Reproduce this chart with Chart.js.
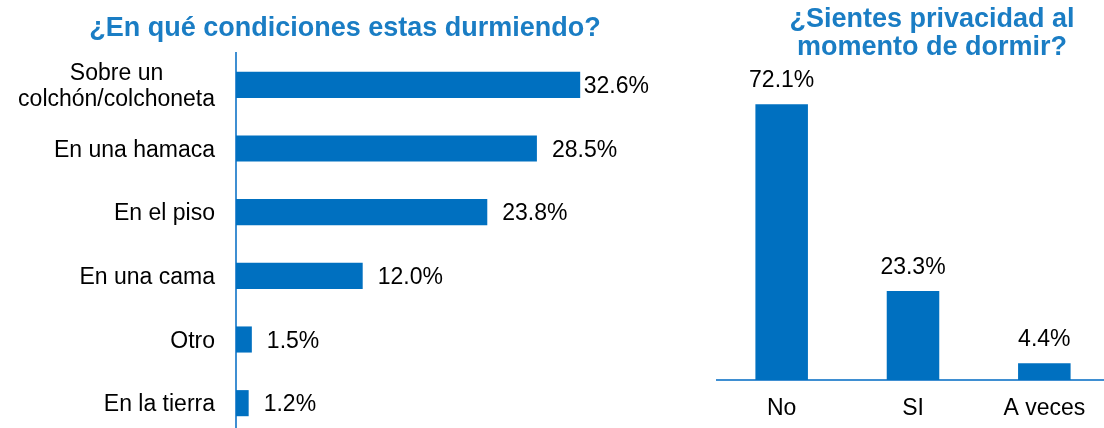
<!DOCTYPE html>
<html>
<head>
<meta charset="utf-8">
<script src="https://cdn.jsdelivr.net/npm/chart.js@4.4.1/dist/chart.umd.min.js"></script>
<style>
  html, body { margin: 0; padding: 0; background: #fff; overflow: hidden; }
  body { width: 1104px; height: 428px; position: relative; }
  #sleepChart { position: absolute; left: 0; top: 0; }
  #privacyChart { position: absolute; left: 716px; top: 0; }
</style>
</head>
<body>
<canvas id="sleepChart" width="690" height="435"></canvas>
<canvas id="privacyChart" width="432" height="428"></canvas>
<script>
var sleepTitle = '¿En qué condiciones estas durmiendo?';
var sleepCategories = [['Sobre un', 'colchón/colchoneta'], 'En una hamaca', 'En el piso', 'En una cama', 'Otro', 'En la tierra'];
var sleepValues = [32.6, 28.5, 23.8, 12.0, 1.5, 1.2];

var privacyTitle = ['¿Sientes privacidad al', 'momento de dormir?'];
var privacyCategories = ['No', 'SI', 'A veces'];
var privacyValues = [72.1, 23.3, 4.4];

(function () {
  var fontFamily = '"Liberation Sans", Arial, sans-serif';
  var barBlue = '#0070C0';
  var titleBlue = '#1A7DC4';
  var axisBlue = '#3F8FD2';

  function pct(v) {
    return v.toFixed(1) + '%';
  }

  // y labels drawn by hand so the two-line one stays centred on itself
  var categoryLabels = {
    id: 'categoryLabels',
    afterDraw: function (chart) {
      var ctx = chart.ctx;
      var yScale = chart.scales.y;
      var right = chart.chartArea.left - 21;
      ctx.save();
      ctx.font = '23px ' + fontFamily;
      ctx.fillStyle = '#000';
      ctx.textAlign = 'center';
      ctx.textBaseline = 'alphabetic';
      chart.data.labels.forEach(function (label, i) {
        var lines = [].concat(label);
        var width = Math.max.apply(null, lines.map(function (l) { return ctx.measureText(l).width; }));
        var cx = right - width / 2;
        var y = yScale.getPixelForValue(i);
        lines.forEach(function (line, j) {
          ctx.fillText(line, cx, y + (j - (lines.length - 1) / 2) * 26 + 8);
        });
      });
      ctx.restore();
    }
  };

  var barEndLabels = {
    id: 'barEndLabels',
    afterDatasetsDraw: function (chart) {
      var ctx = chart.ctx;
      var values = chart.data.datasets[0].data;
      ctx.save();
      ctx.font = '23px ' + fontFamily;
      ctx.fillStyle = '#000';
      ctx.textAlign = 'left';
      ctx.textBaseline = 'alphabetic';
      chart.getDatasetMeta(0).data.forEach(function (bar, i) {
        var text = pct(values[i]);
        var w = ctx.measureText(text).width;
        var x = Math.min(bar.x + 15, 649 - w);
        ctx.fillText(text, x, bar.y + 8);
      });
      ctx.restore();
    }
  };

  var barTopLabels = {
    id: 'barTopLabels',
    afterDatasetsDraw: function (chart) {
      var ctx = chart.ctx;
      var values = chart.data.datasets[0].data;
      ctx.save();
      ctx.font = '23px ' + fontFamily;
      ctx.fillStyle = '#000';
      ctx.textAlign = 'center';
      ctx.textBaseline = 'alphabetic';
      chart.getDatasetMeta(0).data.forEach(function (bar, i) {
        ctx.fillText(pct(values[i]), bar.x, bar.y - 17);
      });
      ctx.restore();
    }
  };

  function init() {
    new Chart(document.getElementById('sleepChart').getContext('2d'), {
      type: 'bar',
      data: {
        labels: sleepCategories,
        datasets: [{
          data: sleepValues,
          backgroundColor: barBlue,
          barPercentage: 0.41,
          categoryPercentage: 1
        }]
      },
      options: {
        indexAxis: 'y',
        responsive: false,
        animation: false,
        layout: { padding: 0 },
        plugins: {
          legend: { display: false },
          tooltip: { enabled: false },
          title: {
            display: true,
            text: sleepTitle,
            color: titleBlue,
            font: { family: fontFamily, size: 27, weight: 'bold', lineHeight: 1.1 },
            padding: { top: 14, bottom: 9.3 }
          }
        },
        scales: {
          x: { display: false, min: 0, max: 43 },
          y: {
            grid: { display: false, drawTicks: false },
            border: { display: true, color: axisBlue, width: 2 },
            ticks: { display: false },
            afterFit: function (s) { s.width = 236; }
          }
        }
      },
      plugins: [categoryLabels, barEndLabels]
    });

    new Chart(document.getElementById('privacyChart').getContext('2d'), {
      type: 'bar',
      data: {
        labels: privacyCategories,
        datasets: [{
          data: privacyValues,
          backgroundColor: barBlue,
          barPercentage: 0.4,
          categoryPercentage: 1
        }]
      },
      options: {
        responsive: false,
        animation: false,
        layout: { padding: 0 },
        plugins: {
          legend: { display: false },
          tooltip: { enabled: false },
          title: {
            display: true,
            text: privacyTitle,
            color: titleBlue,
            font: { family: fontFamily, size: 27, weight: 'bold', lineHeight: 1.037 },
            padding: { top: 6, bottom: 12 }
          }
        },
        scales: {
          x: {
            grid: { display: false, drawTicks: false },
            border: { display: true, color: axisBlue, width: 2 },
            ticks: { color: '#000', font: { family: fontFamily, size: 23 }, padding: 15 },
            afterFit: function (s) { s.height = 48; }
          },
          y: {
            position: 'right',
            min: 0,
            max: 80,
            grid: { display: false, drawTicks: false },
            border: { display: false },
            ticks: { display: false },
            afterFit: function (s) { s.width = 38; }
          }
        }
      },
      plugins: [barTopLabels]
    });
  }

  if (document.readyState === 'loading') {
    document.addEventListener('DOMContentLoaded', init);
  } else {
    init();
  }
})();
</script>
</body>
</html>
